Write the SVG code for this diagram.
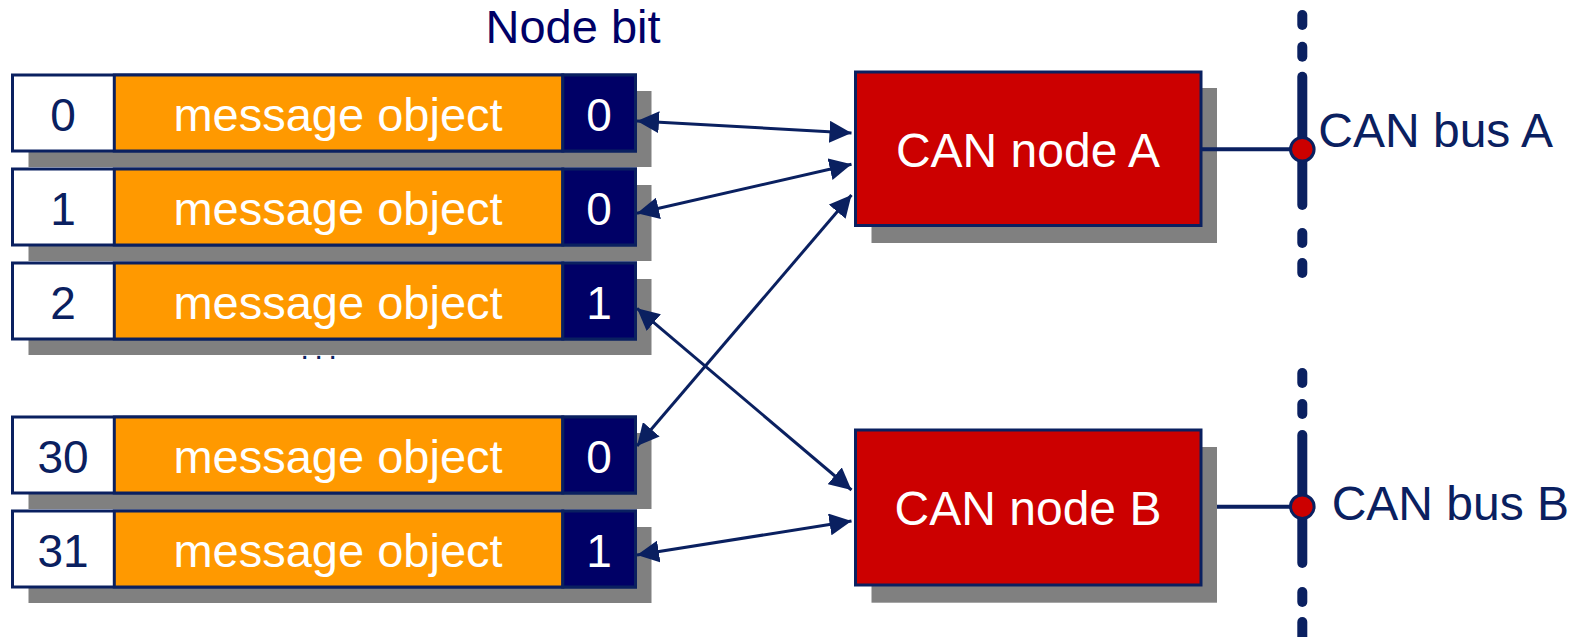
<svg xmlns="http://www.w3.org/2000/svg" width="1587" height="637" viewBox="0 0 1587 637">
  <defs>
    <style>
      text { font-family: "Liberation Sans", Arial, sans-serif; }
      .shadow { fill: #808080; }
      .idx { fill: #ffffff; stroke: #0a2060; stroke-width: 3; }
      .obj { fill: #ff9900; stroke: #0a2060; stroke-width: 3; }
      .bit { fill: #000066; stroke: #0a2060; stroke-width: 3; }
      .idx-t { fill: #0a2060; font-size: 46px; text-anchor: middle; }
      .obj-t { fill: #ffffff; font-size: 47px; text-anchor: middle; }
      .bit-t { fill: #ffffff; font-size: 46px; text-anchor: middle; }
      .node { fill: #cc0000; stroke: #0a2060; stroke-width: 3; }
      .node-t { fill: #ffffff; font-size: 48px; text-anchor: middle; }
      .label { fill: #0a2060; font-size: 48px; }
      .wire { stroke: #0a2060; stroke-width: 3; fill: none; }
      .stub { stroke: #0a2060; stroke-width: 4; fill: none; }
      .bus { stroke: #0a2060; stroke-width: 10; stroke-linecap: round; fill: none; }
      .tap { fill: #cc0000; stroke: #0a2060; stroke-width: 3; }
    </style>
    <marker id="head" markerUnits="userSpaceOnUse" markerWidth="22" markerHeight="22" refX="22" refY="11" orient="auto-start-reverse">
      <path d="M0,0 L22,11 L0,22 z" fill="#0a2060"/>
    </marker>
  </defs>

  <!-- column heading -->
  <text x="573" y="43" font-size="47" text-anchor="middle" fill="#000066">Node bit</text>

  <!-- ellipsis between entry 2 and entry 30, partly hidden by the shadow above -->
  <text x="321.5" y="358.5" font-size="30" letter-spacing="5.6" text-anchor="middle" fill="#0a2060">...</text>

  <!-- message object list -->
  <g id="mo0" transform="translate(0,75)">
    <rect class="shadow" x="28.5" y="16" width="623" height="76"/>
    <rect class="idx" x="12.5" y="0" width="623" height="76"/>
    <rect class="obj" x="114.3" y="0" width="448.5" height="76"/>
    <rect class="bit" x="562.8" y="0" width="72.7" height="76"/>
    <text class="idx-t" x="63" y="56">0</text>
    <text class="obj-t" x="338" y="56">message object</text>
    <text class="bit-t" x="599" y="56">0</text>
  </g>
  <g id="mo1" transform="translate(0,169)">
    <rect class="shadow" x="28.5" y="16" width="623" height="76"/>
    <rect class="idx" x="12.5" y="0" width="623" height="76"/>
    <rect class="obj" x="114.3" y="0" width="448.5" height="76"/>
    <rect class="bit" x="562.8" y="0" width="72.7" height="76"/>
    <text class="idx-t" x="63" y="56">1</text>
    <text class="obj-t" x="338" y="56">message object</text>
    <text class="bit-t" x="599" y="56">0</text>
  </g>
  <g id="mo2" transform="translate(0,263)">
    <rect class="shadow" x="28.5" y="16" width="623" height="76"/>
    <rect class="idx" x="12.5" y="0" width="623" height="76"/>
    <rect class="obj" x="114.3" y="0" width="448.5" height="76"/>
    <rect class="bit" x="562.8" y="0" width="72.7" height="76"/>
    <text class="idx-t" x="63" y="56">2</text>
    <text class="obj-t" x="338" y="56">message object</text>
    <text class="bit-t" x="599" y="56">1</text>
  </g>
  <g id="mo30" transform="translate(0,417)">
    <rect class="shadow" x="28.5" y="16" width="623" height="76"/>
    <rect class="idx" x="12.5" y="0" width="623" height="76"/>
    <rect class="obj" x="114.3" y="0" width="448.5" height="76"/>
    <rect class="bit" x="562.8" y="0" width="72.7" height="76"/>
    <text class="idx-t" x="63" y="56">30</text>
    <text class="obj-t" x="338" y="56">message object</text>
    <text class="bit-t" x="599" y="56">0</text>
  </g>
  <g id="mo31" transform="translate(0,511)">
    <rect class="shadow" x="28.5" y="16" width="623" height="76"/>
    <rect class="idx" x="12.5" y="0" width="623" height="76"/>
    <rect class="obj" x="114.3" y="0" width="448.5" height="76"/>
    <rect class="bit" x="562.8" y="0" width="72.7" height="76"/>
    <text class="idx-t" x="63" y="56">31</text>
    <text class="obj-t" x="338" y="56">message object</text>
    <text class="bit-t" x="599" y="56">1</text>
  </g>

  <!-- bus B stub runs behind the node B shadow -->
  <line class="stub" x1="1201" y1="506.7" x2="1292" y2="506.7"/>

  <!-- CAN nodes -->
  <g id="nodeA">
    <rect class="shadow" x="871.5" y="88" width="345.5" height="155"/>
    <rect class="node" x="855.5" y="72" width="345.5" height="153.5"/>
    <text class="node-t" x="1028" y="167">CAN node A</text>
  </g>
  <g id="nodeB">
    <rect class="shadow" x="871.5" y="447" width="345.5" height="155.7"/>
    <rect class="node" x="855.5" y="430" width="345.5" height="155"/>
    <text class="node-t" x="1028" y="525">CAN node B</text>
  </g>

  <!-- CAN bus A -->
  <g id="busA">
    <line class="stub" x1="1201" y1="149.3" x2="1292" y2="149.3"/>
    <line class="bus" x1="1302.3" y1="15" x2="1302.3" y2="25"/>
    <line class="bus" x1="1302.3" y1="46.7" x2="1302.3" y2="56.7"/>
    <line class="bus" x1="1302.3" y1="76.7" x2="1302.3" y2="205"/>
    <line class="bus" x1="1302.3" y1="233" x2="1302.3" y2="243"/>
    <line class="bus" x1="1302.3" y1="263" x2="1302.3" y2="273"/>
    <circle class="tap" cx="1302.3" cy="149.3" r="11.8"/>
    <text class="label" x="1318.3" y="146.7">CAN bus A</text>
  </g>

  <!-- CAN bus B -->
  <g id="busB">
    <line class="bus" x1="1302.3" y1="373" x2="1302.3" y2="383"/>
    <line class="bus" x1="1302.3" y1="404" x2="1302.3" y2="414"/>
    <line class="bus" x1="1302.3" y1="435" x2="1302.3" y2="563"/>
    <line class="bus" x1="1302.3" y1="592" x2="1302.3" y2="602"/>
    <line class="bus" x1="1302.3" y1="622" x2="1302.3" y2="642"/>
    <circle class="tap" cx="1302.3" cy="506.7" r="11.8"/>
    <text class="label" x="1331.7" y="520">CAN bus B</text>
  </g>

  <!-- node bit assignments -->
  <g id="connectors">
    <line class="wire" x1="637" y1="121" x2="851.5" y2="133" marker-start="url(#head)" marker-end="url(#head)"/>
    <line class="wire" x1="637" y1="213.3" x2="851.5" y2="164.3" marker-start="url(#head)" marker-end="url(#head)"/>
    <line class="wire" x1="637" y1="446" x2="851.5" y2="195" marker-start="url(#head)" marker-end="url(#head)"/>
    <line class="wire" x1="637" y1="308.3" x2="851.5" y2="490" marker-start="url(#head)" marker-end="url(#head)"/>
    <line class="wire" x1="637" y1="555" x2="851.5" y2="521" marker-start="url(#head)" marker-end="url(#head)"/>
  </g>
</svg>
